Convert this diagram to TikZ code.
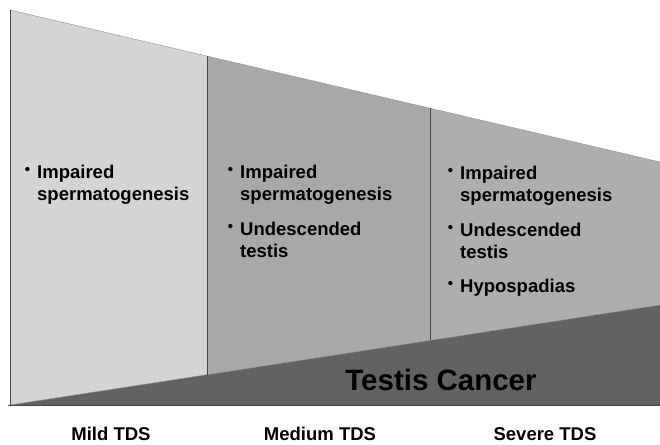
\documentclass[tikz,border=0pt]{standalone}
\usepackage{fontspec}
\setmainfont{Liberation Sans}
\usetikzlibrary{positioning}

\definecolor{mildfill}{RGB}{212,212,212}
\definecolor{medfill}{RGB}{168,168,168}
\definecolor{sevfill}{RGB}{174,174,174}
\definecolor{cancerfill}{RGB}{98,98,98}
\definecolor{edge}{RGB}{70,70,70}

\newcommand{\bul}{\llap{\raisebox{4pt}{\fontsize{15}{15}\selectfont •}\hspace{7pt}}}

\begin{document}
\begin{tikzpicture}[x=1pt, y=-1pt, thin,
  item/.style={anchor=north west, inner sep=0pt, align=left, font=\bfseries\fontsize{18.5}{22}\selectfont},
  level/.style={inner sep=0pt, font=\bfseries\fontsize{18.5}{20}\selectfont}]
\useasboundingbox (0,0) rectangle (660,444);

% corners of the wedge
\coordinate (tl) at (10,10);
\coordinate (t1) at (207,56.1);
\coordinate (t2) at (430,108.2);
\coordinate (tr) at (660,162);
\coordinate (bl) at (10,405);
\coordinate (b1) at (207,374.7);
\coordinate (b2) at (430,340.4);
\coordinate (cr) at (660,305);
\coordinate (br) at (660,405);

\fill[mildfill] (tl) -- (t1) -- (b1) -- (bl) -- cycle;
\fill[medfill] (t1) -- (t2) -- (b2) -- (b1) -- cycle;
\fill[sevfill] (t2) -- (tr) -- (cr) -- (b2) -- cycle;
\fill[cancerfill] (bl) -- (cr) -- (br) -- cycle;

\draw[edge!60] (tl) -- (tr);
\draw[edge!60] (bl) -- (cr);
\draw[edge] (tl) -- (bl);
\draw[edge] (t1) -- (b1);
\draw[edge] (t2) -- (b2);
\draw[edge] (8,405) -- (br);

% bullet lists
\node (mild1) [item] at (37,165) {\bul Impaired\\spermatogenesis};

\node (med1) [item] at (240,165) {\bul Impaired\\spermatogenesis};
\node (med2) [item, below=17pt of med1.south west, anchor=north west] {\bul Undescended\\testis};

\node (sev1) [item] at (460,166) {\bul Impaired\\spermatogenesis};
\node (sev2) [item, below=17pt of sev1.south west, anchor=north west] {\bul Undescended\\testis};
\node (sev3) [item, below=20pt of sev2.south west, anchor=north west] {\bul Hypospadias};

\node (cancer) [inner sep=0pt, font=\bfseries\fontsize{29.5}{30}\selectfont] at (441,380) {Testis Cancer};

% levels
\node (mild) [level] at (111,434) {Mild TDS};
\node (medium) [level] at (320,434) {Medium TDS};
\node (severe) [level] at (545,434) {Severe TDS};
\end{tikzpicture}
\end{document}
